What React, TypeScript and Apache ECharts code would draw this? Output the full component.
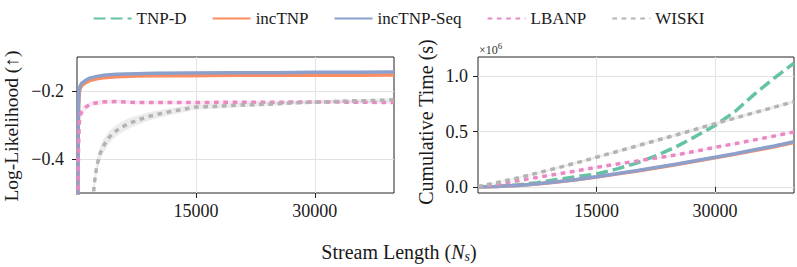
import React, { useEffect, useRef } from "react";
import * as echarts from "echarts";

const NAMES = ["TNP-D", "incTNP", "incTNP-Seq", "LBANP", "WISKI"];
const COLORS = ["#66c2a5", "#fc8d62", "#8da0cb", "#e78ac3", "#b3b3b3"];
const FONT = "'Liberation Serif', 'Times New Roman', serif";

// ---------- Left panel: Log-Likelihood ----------
const LL_TNP_X = [100, 150, 200, 250, 300, 400, 600, 1000, 1600, 2500, 3300, 5000, 7500, 10000, 14000, 20000, 25000, 30000, 35000, 40000];
const LL_INCTNP_SEQ = [-0.6, -0.32, -0.24, -0.21, -0.195, -0.185, -0.177, -0.17, -0.162, -0.157, -0.154, -0.151, -0.149, -0.148, -0.147, -0.146, -0.146, -0.145, -0.145, -0.144];
const LL_INCTNP = [-0.6, -0.33, -0.25, -0.22, -0.203, -0.192, -0.184, -0.177, -0.169, -0.164, -0.161, -0.158, -0.156, -0.155, -0.155, -0.154, -0.154, -0.154, -0.154, -0.153];

const LL_LBANP_X = [100, 150, 200, 300, 500, 800, 1200, 1600, 2200, 3000, 4000, 5000, 6000, 7500, 10000, 12000, 15000, 20000, 25000, 30000, 35000, 40000];
const LL_LBANP = [-0.6, -0.45, -0.36, -0.29, -0.265, -0.254, -0.246, -0.24, -0.236, -0.233, -0.2315, -0.231, -0.232, -0.234, -0.234, -0.234, -0.234, -0.233, -0.233, -0.232, -0.233, -0.234];
const LL_LBANP_ERR = [0.01, 0.01, 0.01, 0.01, 0.009, 0.009, 0.008, 0.008, 0.007, 0.007, 0.006, 0.006, 0.006, 0.005, 0.005, 0.005, 0.005, 0.004, 0.004, 0.004, 0.004, 0.004];

const LL_WISKI_X = [1900, 2200, 2500, 2900, 3300, 4000, 4500, 5500, 6700, 8000, 9200, 10500, 11700, 13800, 15000, 17500, 20000, 22500, 25000, 27500, 30000, 32500, 35000, 37500, 40000];
const LL_WISKI = [-0.55, -0.47, -0.42, -0.385, -0.363, -0.338, -0.325, -0.308, -0.294, -0.283, -0.274, -0.267, -0.261, -0.252, -0.247, -0.245, -0.242, -0.24, -0.238, -0.235, -0.233, -0.231, -0.229, -0.228, -0.226];
const LL_WISKI_ERR = [0.022, 0.022, 0.021, 0.021, 0.02, 0.018, 0.017, 0.016, 0.015, 0.013, 0.012, 0.011, 0.01, 0.009, 0.008, 0.007, 0.006, 0.006, 0.005, 0.005, 0.005, 0.005, 0.005, 0.005, 0.005];

const LL_Y_TICKS = [-0.4, -0.2];
const X_TICKS = [15000, 30000];

// ---------- Right panel: Cumulative Time (s) ----------
const RT_X = [0, 2500, 5000, 7500, 10000, 12500, 15000, 17500, 20000, 22500, 25000, 27500, 30000, 32500, 35000, 37500, 40000];
const RT_TNPD = [0, 5000, 18000, 38000, 66000, 92000, 117000, 160000, 213000, 280000, 360000, 455000, 555000, 680000, 840000, 985000, 1120000];
const RT_INCTNP = [0, 3800, 12500, 26000, 43500, 65000, 89500, 115000, 141500, 171000, 200500, 231000, 262000, 294000, 328000, 362000, 400000];
const RT_INCTNP_SEQ = [0, 4000, 13000, 27000, 45000, 67000, 92000, 118000, 145000, 175000, 205000, 236000, 268000, 300000, 335000, 370000, 408000];
const RT_LBANP = [0, 25000, 55000, 85000, 115000, 145000, 177000, 205000, 232000, 260000, 288000, 322000, 358000, 390000, 425000, 460000, 497000];
const RT_LBANP_ERR = [0, 3000, 4000, 5000, 6000, 6000, 7000, 7000, 7000, 8000, 8000, 8000, 8000, 8000, 8000, 8000, 8000];
const RT_WISKI = [0, 40000, 80000, 125000, 170000, 218000, 268000, 318000, 368000, 418000, 468000, 520000, 572000, 622000, 672000, 722000, 772000];
const RT_WISKI_ERR = [0, 6000, 8000, 9000, 10000, 11000, 12000, 12000, 13000, 13000, 13000, 14000, 14000, 14000, 14000, 14000, 14000];
const RT_Y_TICKS = [0, 500000, 1000000];

const LINE_W = 3.5;
const DASH = [12, 5];
const DOT = [4.7, 4.6];

function pairs(xs: number[], ys: number[]) {
  return xs.map((x, i) => [x, ys[i]]);
}

function lineSeries(name: string, idx: number, data: number[][], grid: number, type: any) {
  return {
    type: "line",
    name,
    xAxisIndex: grid,
    yAxisIndex: grid,
    data,
    symbol: "none",
    showSymbol: false,
    smooth: false,
    clip: true,
    z: 3 + idx,
    color: COLORS[idx],
    lineStyle: { color: COLORS[idx], width: LINE_W, type, cap: "butt" },
    emphasis: { disabled: true },
    silent: true,
  };
}

function bandSeries(xs: number[], ys: number[], err: number[], grid: number, color: string, ymin: number) {
  return {
    type: "custom",
    name: "band" + grid + color,
    xAxisIndex: grid,
    yAxisIndex: grid,
    coordinateSystem: "cartesian2d",
    data: [[xs[0], ys[0]]],
    z: 1,
    silent: true,
    clip: true,
    renderItem: (params: any, api: any) => {
      const upper = xs.map((x, i) => api.coord([x, Math.max(ymin, ys[i] + err[i])]));
      const lower = xs.map((x, i) => api.coord([x, Math.max(ymin, ys[i] - err[i])])).reverse();
      return {
        type: "polygon",
        shape: { points: upper.concat(lower) },
        style: { fill: color, stroke: "none" },
      };
    },
  };
}

const minus = (s: string) => s.replace("-", "\u2212");

export default function App() {
  const ref = useRef<HTMLDivElement>(null);
  useEffect(() => {
    if (!ref.current) return;
    const chart = echarts.init(ref.current, null, { renderer: "svg" });
    const axisText = { color: "#1a1a1a", fontFamily: FONT, fontSize: 18 };
    const splitLine = { show: true, lineStyle: { color: "#e3e3e3", width: 1 } };
    const tick = { show: true, length: 5, lineStyle: { color: "#222", width: 1 } };
    const xAxisCommon = (gi: number) => ({
      type: "value",
      gridIndex: gi,
      min: 0,
      max: 40000,
      interval: 15000,
      axisLine: { show: false },
      axisTick: { ...tick, customValues: X_TICKS },
      splitLine,
      axisLabel: { ...axisText, margin: 9, customValues: X_TICKS, formatter: (v: number) => String(v) },
    });
    const option: any = {
      animation: false,
      backgroundColor: "#ffffff",
      textStyle: { fontFamily: FONT },
      legend: {
        top: 5,
        left: "center",
        itemWidth: 38,
        itemHeight: 18,
        itemGap: 25,
        data: NAMES,
        itemStyle: { opacity: 0 },
        textStyle: { fontFamily: FONT, fontSize: 17, color: "#1a1a1a" },
        selectedMode: false,
      },
      grid: [
        { left: 77, top: 57, width: 317, height: 136, show: true, borderColor: "#222", borderWidth: 1, backgroundColor: "transparent" },
        { left: 478, top: 57, width: 316, height: 136, show: true, borderColor: "#222", borderWidth: 1, backgroundColor: "transparent" },
      ],
      xAxis: [xAxisCommon(0), xAxisCommon(1)],
      yAxis: [
        {
          type: "value",
          gridIndex: 0,
          min: -0.5,
          max: -0.1,
          axisLine: { show: false },
          axisTick: { ...tick, customValues: LL_Y_TICKS },
          splitLine,
          axisLabel: { ...axisText, margin: 13, customValues: LL_Y_TICKS, formatter: (v: number) => minus(v.toFixed(1)) },
        },
        {
          type: "value",
          gridIndex: 1,
          min: -56000,
          max: 1176000,
          axisLine: { show: false },
          axisTick: { ...tick, customValues: RT_Y_TICKS },
          splitLine,
          axisLabel: { ...axisText, margin: 10, customValues: RT_Y_TICKS, formatter: (v: number) => (v / 1e6).toFixed(1) },
        },
      ],
      series: [
        bandSeries(LL_LBANP_X, LL_LBANP, LL_LBANP_ERR, 0, "rgba(231,138,195,0.2)", -0.5),
        bandSeries(LL_WISKI_X, LL_WISKI, LL_WISKI_ERR, 0, "rgba(179,179,179,0.25)", -0.5),
        lineSeries(NAMES[1], 1, pairs(LL_TNP_X, LL_INCTNP), 0, "solid"),
        lineSeries(NAMES[2], 2, pairs(LL_TNP_X, LL_INCTNP_SEQ), 0, "solid"),
        lineSeries(NAMES[3], 3, pairs(LL_LBANP_X, LL_LBANP), 0, DOT),
        lineSeries(NAMES[4], 4, pairs(LL_WISKI_X, LL_WISKI), 0, DOT),
        bandSeries(RT_X, RT_LBANP, RT_LBANP_ERR, 1, "rgba(231,138,195,0.2)", -56000),
        bandSeries(RT_X, RT_WISKI, RT_WISKI_ERR, 1, "rgba(179,179,179,0.25)", -56000),
        lineSeries(NAMES[0], 0, pairs(RT_X, RT_TNPD), 1, DASH),
        lineSeries(NAMES[1], 1, pairs(RT_X, RT_INCTNP), 1, "solid"),
        lineSeries(NAMES[2], 2, pairs(RT_X, RT_INCTNP_SEQ), 1, "solid"),
        lineSeries(NAMES[3], 3, pairs(RT_X, RT_LBANP), 1, DOT),
        lineSeries(NAMES[4], 4, pairs(RT_X, RT_WISKI), 1, DOT),
      ],
      graphic: [
        {
          type: "text",
          x: 11,
          y: 126,
          rotation: Math.PI / 2,
          style: { text: "Log-Likelihood (\u2191)", fontFamily: FONT, fontSize: 19.5, fill: "#1a1a1a", align: "center", verticalAlign: "middle" },
        },
        {
          type: "text",
          x: 426,
          y: 122,
          rotation: Math.PI / 2,
          style: { text: "Cumulative Time (s)", fontFamily: FONT, fontSize: 20, fill: "#1a1a1a", align: "center", verticalAlign: "middle" },
        },
        {
          type: "text",
          x: 399,
          y: 252,
          style: {
            text: "{m|Stream Length (}{i|N}{s|s}{m|)}",
            fontFamily: FONT,
            fontSize: 20,
            fill: "#1a1a1a",
            align: "center",
            verticalAlign: "middle",
            rich: {
              m: { fontFamily: FONT, fontSize: 20, lineHeight: 22, fill: "#1a1a1a" },
              i: { fontFamily: FONT, fontSize: 20, lineHeight: 22, fontStyle: "italic", fill: "#1a1a1a" },
              s: { fontFamily: FONT, fontSize: 14, lineHeight: 12, fontStyle: "italic", verticalAlign: "bottom", fill: "#1a1a1a" },
            },
          },
        },
        {
          type: "text",
          x: 479,
          y: 50,
          style: {
            text: "{b|\u00d710}{p|6}",
            fontFamily: FONT,
            fill: "#333",
            align: "left",
            verticalAlign: "middle",
            rich: {
              b: { fontFamily: FONT, fontSize: 12, lineHeight: 18, fill: "#333" },
              p: { fontFamily: FONT, fontSize: 9, lineHeight: 9, verticalAlign: "top", fill: "#333" },
            },
          },
        },
      ],
    };
    chart.setOption(option);
    return () => chart.dispose();
  }, []);
  return <div ref={ref} style={{ position: "fixed", left: 0, top: 0, width: 797, height: 267 }} />;
}
